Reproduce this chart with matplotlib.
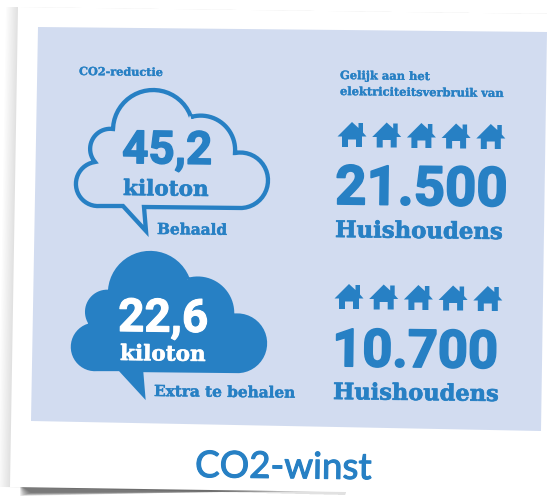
import numpy as np
import matplotlib
matplotlib.use("Agg")
import matplotlib.pyplot as plt
import matplotlib.patheffects as pe
from matplotlib.path import Path
from matplotlib.patches import PathPatch, Polygon

BLUE = "#2780c4"
PANEL = "#d2dcf0"

# chart content
header_left = "CO2-reductie"
header_right = "Gelijk aan het\nelektriciteitsverbruik van"
kiloton_values = ["45,2", "22,6"]
kiloton_unit = "kiloton"
status_labels = ["Behaald", "Extra te behalen"]
household_values = ["21.500", "10.700"]
household_unit = "Huishoudens"
house_count = 5
title = "CO2-winst"

# the whole card is tilted a little
TILT = -0.7


def arc(p0, p1, p2, n=24):
    """Points on the circle through three points"""
    ax_, ay_ = p0
    bx, by = p1
    cx, cy = p2
    d = 2 * (ax_ * (by - cy) + bx * (cy - ay_) + cx * (ay_ - by))
    ux = ((ax_**2 + ay_**2) * (by - cy) + (bx**2 + by**2) * (cy - ay_) + (cx**2 + cy**2) * (ay_ - by)) / d
    uy = ((ax_**2 + ay_**2) * (cx - bx) + (bx**2 + by**2) * (ax_ - cx) + (cx**2 + cy**2) * (bx - ax_)) / d
    r = np.hypot(ax_ - ux, ay_ - uy)
    a0 = np.arctan2(ay_ - uy, ax_ - ux)
    a1 = np.arctan2(by - uy, bx - ux)
    a2 = np.arctan2(cy - uy, cx - ux)
    # go the way round that passes p1
    d1 = (a1 - a0) % (2 * np.pi)
    d2 = (a2 - a0) % (2 * np.pi)
    if d1 > d2:
        d2 -= 2 * np.pi
    t = np.linspace(a0, a0 + d2, n)
    return np.column_stack([ux + r * np.cos(t), uy + r * np.sin(t)])


def cloud_outline(dx=0, dy=0):
    parts = [
        arc((113, 129), (153, 90), (191, 117)),
        arc((191, 117), (222, 123), (235, 153)),
        arc((235, 153), (268, 181), (242, 208)),
        np.array([[144, 207], [146, 231], [123, 206], [100, 206]]),
        arc((100, 206), (76, 182), (95, 162)),
        arc((95, 162), (91, 143), (113, 129)),
    ]
    return np.vstack(parts) + [dx, dy]


def house(cx, top):
    # unit house, width 29 and height 25
    pts = np.array([
        [-14.5, 14.5], [0, 0], [6.5, 6], [6.5, 1], [11, 1], [11, 10.5], [14.5, 14.5], [10, 14.5], [10, 25],
        [4, 25], [4, 17.5], [-4, 17.5], [-4, 25], [-10, 25], [-10, 14.5],
    ], dtype=float)
    return pts + [cx, top]


fig = plt.figure(figsize=(5.51, 4.96), dpi=100)
ax = fig.add_axes([0, 0, 1, 1])
ax.set_xlim(0, 551)
ax.set_ylim(496, 0)
ax.axis("off")

paper = np.array([[18, 7], [560, 14], [545, 495], [10, 487]], dtype=float)

# soft shadow left of the card
for i in range(10):
    grow = (10 - i) * 1.2
    shadow = paper + [[-grow, 0], [0, 0], [-200, 0], [-grow, 0]]
    ax.add_patch(Polygon(shadow, closed=True, fc="#303030", ec="none", alpha=0.012, zorder=1))

# darker shadow below, dies out towards the right
for i in range(12):
    end = 300 + i * 18
    low = 496 - i * 0.3
    ax.add_patch(Polygon([[20, 485], [end, 489], [end, 490], [20 + i, low]], closed=True, fc="#202020", ec="none",
                         alpha=0.07, zorder=1))

ax.add_patch(Polygon(paper, closed=True, fc="white", ec="none", zorder=2))
ax.add_patch(Polygon([[38, 27], [547, 32], [541, 431], [31, 421]], closed=True, fc=PANEL, ec="none", zorder=3))

# clouds
outline = cloud_outline()
ax.add_patch(PathPatch(Path(np.vstack([outline, outline[0]]), closed=True), fc="none", ec=BLUE, lw=3.1,
                       joinstyle="miter", zorder=4))
filled = cloud_outline(-3, 163)
ax.add_patch(PathPatch(Path(np.vstack([filled, filled[0]]), closed=True), fc=BLUE, ec=BLUE, lw=3.1,
                       joinstyle="miter", zorder=4))


def label(x, y, s, size, color=BLUE, family="DejaVu Serif", heavy=0.4):
    t = ax.text(x, y, s, fontsize=size, color=color, family=family, fontweight="bold", rotation=TILT,
                rotation_mode="anchor", ha="left", va="baseline", zorder=5)
    # the fonts here are a bit lighter than the original slab face
    t.set_path_effects([pe.withStroke(linewidth=heavy, foreground=color)])


label(79, 75, header_left, 8.1, heavy=0.2)
label(340, 79, header_right.split("\n")[0], 8.25, heavy=0.2)
label(340, 95, header_right.split("\n")[1], 8.25, heavy=0.2)

label(122, 163, kiloton_values[0], 33, family="Roboto", heavy=1.0)
label(123, 195, kiloton_unit, 15.5)
label(157, 234, status_labels[0], 11, heavy=0.3)

label(118, 331, kiloton_values[1], 33, color="white", family="Roboto", heavy=0.8)
label(120, 360, kiloton_unit, 15.5, color="white")
label(154, 396, status_labels[1], 11, heavy=0.3)

label(335, 204, household_values[0], 39.3, family="Roboto", heavy=1.2)
label(335, 237, household_unit, 16.4, heavy=0.5)
label(332, 366, household_values[1], 37.8, family="Roboto", heavy=1.2)
label(333, 399, household_unit, 16.2, heavy=0.5)

# house rows
for cx0, top0 in [(352, 122), (349, 284)]:
    for i in range(house_count):
        ax.add_patch(Polygon(house(cx0 + i * 34.7, top0 + i * 0.5), closed=True, fc=BLUE, ec="none", zorder=5))

t = ax.text(195, 477, title, fontsize=26.5, color=BLUE, family="Lato", rotation=TILT,
            rotation_mode="anchor", ha="left", va="baseline", zorder=5)
t.set_path_effects([pe.withStroke(linewidth=0.8, foreground=BLUE)])

fig.savefig("out.png", dpi=100)
